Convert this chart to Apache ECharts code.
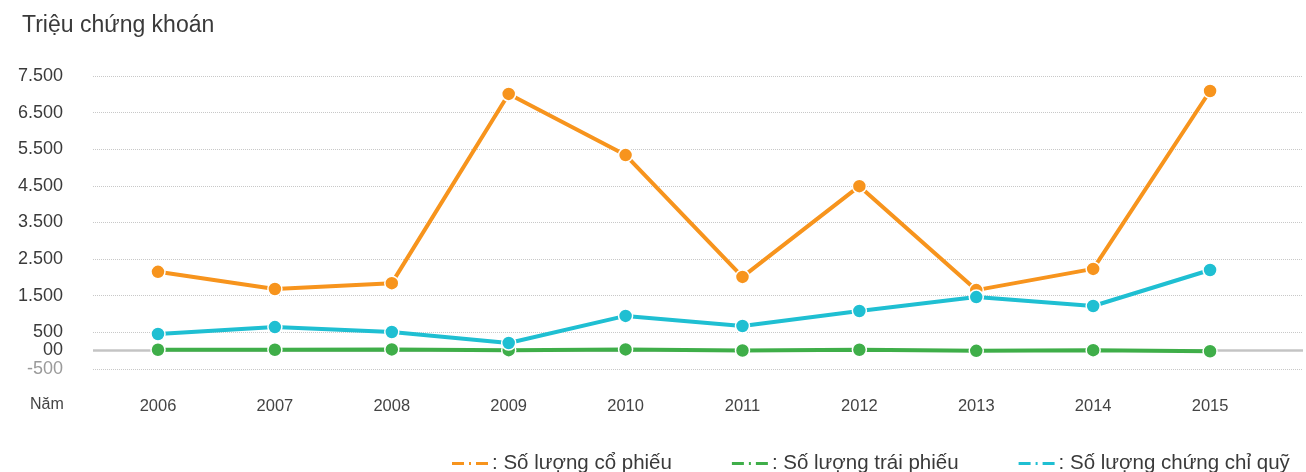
<!DOCTYPE html>
<html>
<head>
<meta charset="utf-8">
<script src="https://cdn.jsdelivr.net/npm/echarts@6/dist/echarts.min.js"></script>
<style>
  html, body { margin: 0; padding: 0; background: #fff; }
  #chart { width: 1306px; height: 472px; }
</style>
</head>
<body>
<div id="chart"></div>
<script>
var years = [2006, 2007, 2008, 2009, 2010, 2011, 2012, 2013, 2014, 2015];
var coPhieu = [2150, 1680, 1840, 7010, 5340, 2010, 4490, 1650, 2230, 7090];
var traiPhieu = [20, 20, 30, 10, 30, 0, 20, -10, 10, -20];
var chungChiQuy = [450, 640, 505, 205, 945, 670, 1080, 1460, 1215, 2200];
var yTicks = [-500, 0, 500, 1500, 2500, 3500, 4500, 5500, 6500, 7500];
var seriesNames = [': Số lượng cổ phiếu', ': Số lượng trái phiếu', ': Số lượng chứng chỉ quỹ'];
var colors = ['#f7941d', '#3fae49', '#1fbfd2'];

var font = '"Liberation Sans", Arial, sans-serif';
var myChart = echarts.init(document.getElementById('chart'));

function pairs(vals) {
  return years.map(function (y, i) { return [y, vals[i]]; });
}

function fmtY(v) {
  if (v === 0) return '00';
  var s = String(Math.abs(v));
  if (s.length > 3) s = s.slice(0, s.length - 3) + '.' + s.slice(-3);
  return (v < 0 ? '-' : '') + s;
}

function line(name, vals, color, extra) {
  var s = {
    name: name,
    type: 'line',
    data: pairs(vals),
    symbol: 'circle',
    symbolSize: 14,
    color: color,
    lineStyle: { width: 4, color: color },
    itemStyle: { color: color, borderColor: '#fff', borderWidth: 1.5 },
    emphasis: { disabled: true },
    z: 3
  };
  for (var k in extra) s[k] = extra[k];
  return s;
}

var option = {
  animation: false,
  backgroundColor: '#fff',
  textStyle: { fontFamily: font },
  title: {
    text: 'Triệu chứng khoán',
    left: 17, top: 9,
    textStyle: { fontFamily: font, fontSize: 23, fontWeight: 'normal', color: '#3a3a3a' }
  },
  graphic: [{
    type: 'text', left: 30, top: 397,
    style: { text: 'Năm', font: '16px ' + font, fill: '#444' }
  }],
  grid: { left: 93, right: 3, top: 76, bottom: 103.2 },
  xAxis: {
    type: 'value',
    min: 2005.444, max: 2015.795,
    axisLine: { show: false },
    axisTick: { show: false },
    splitLine: { show: false },
    axisLabel: {
      customValues: years,
      formatter: function (v) { return String(v); },
      color: '#444', fontSize: 16.5, margin: 29
    }
  },
  yAxis: {
    type: 'value',
    min: -500, max: 7500,
    axisLine: { show: false },
    axisTick: { show: false, customValues: yTicks },
    axisLabel: {
      customValues: yTicks,
      formatter: fmtY,
      color: function (v) { return v < 0 ? '#9a9a9a' : '#3a3a3a'; },
      fontSize: 18, margin: 30, hideOverlap: false
    },
    splitLine: { show: true, lineStyle: { color: '#c8c8c8', type: 'dotted', width: 1 } }
  },
  legend: {
    left: 445, top: 448,
    itemGap: 58,
    itemWidth: 38, itemHeight: 5,
    icon: 'path://M0,0h14v5H0z M17,0h4v5h-4z M24,0h14v5H24z',
    textStyle: { fontFamily: font, fontSize: 20.5, color: '#3a3a3a', padding: [0, 0, 0, -2] },
    data: seriesNames
  },
  series: [
    line(seriesNames[0], coPhieu, colors[0], {
      markLine: {
        silent: true, symbol: 'none', label: { show: false },
        lineStyle: { color: '#c4c4c4', type: 'solid', width: 2.5 },
        data: [{ yAxis: 0 }], z: 1
      }
    }),
    line(seriesNames[1], traiPhieu, colors[1], {}),
    line(seriesNames[2], chungChiQuy, colors[2], {})
  ]
};

myChart.setOption(option);
</script>
</body>
</html>
